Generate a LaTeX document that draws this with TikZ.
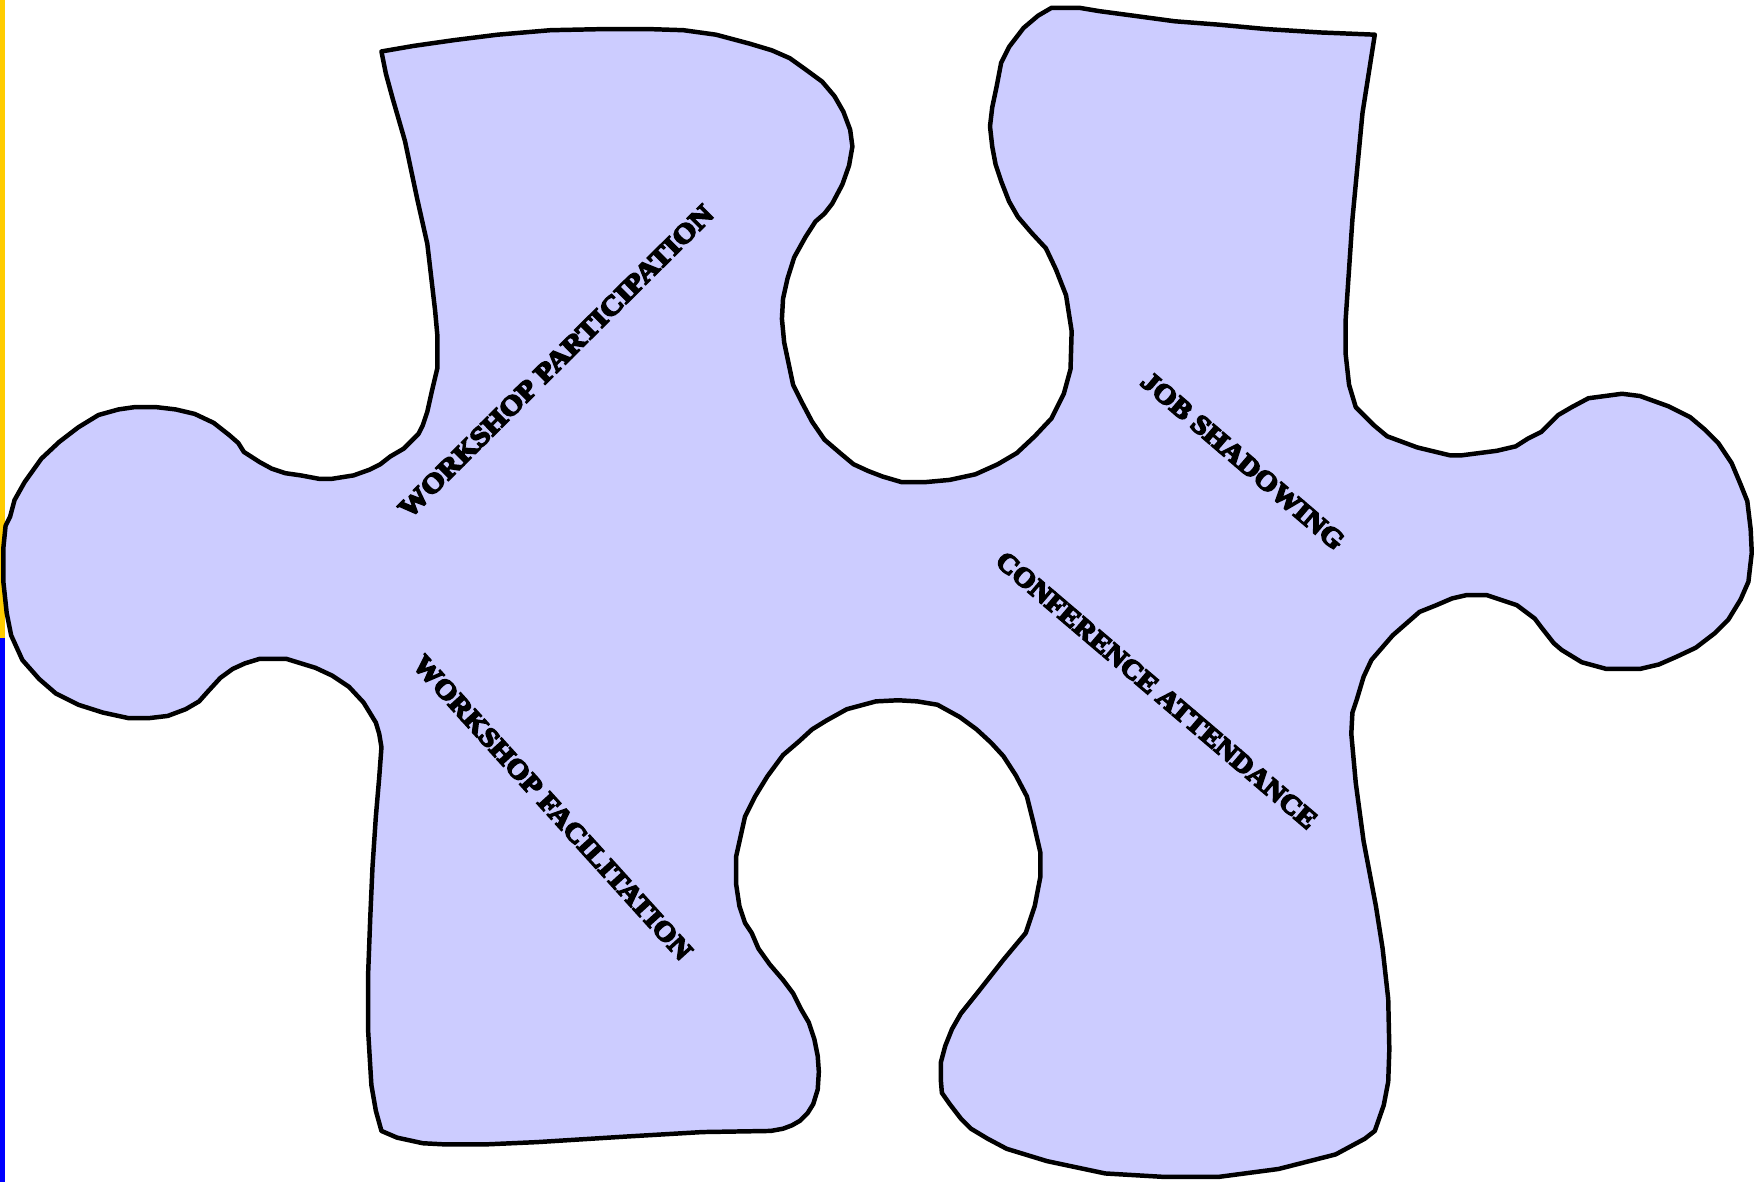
\documentclass[tikz,border=0pt]{standalone}
\usepackage{fontspec}
\setmainfont{Liberation Serif}
\newfontfamily\heavy{Liberation Serif}[BoldFeatures={FakeBold=6}]
\definecolor{piece}{HTML}{CCCCFF}
\definecolor{edgeyellow}{HTML}{FFCC00}
\definecolor{edgeblue}{HTML}{0000FF}
\begin{document}
\begin{tikzpicture}[x=1pt,y=-1pt,
  outline/.style={draw=black,line width=4pt,fill=piece,line join=round},
  lbl/.style={inner sep=0pt,font=\heavy\bfseries}]
\useasboundingbox (0,0) rectangle (1568,1057);
\fill[edgeyellow] (0,0) rectangle (4.5,570);
\fill[edgeblue] (0,570) rectangle (4.5,1057);
\draw[outline] (341,46) -- (370,41) -- (405,36) -- (445,31) -- (492,27) -- (540,26) -- (580,26) -- (611,27) -- (640,31) -- (670,39) -- (690,45) -- (706,52) -- (720,62) -- (735,73) -- (746,86) -- (754,100) -- (760,116) -- (762,131) -- (759,148) -- (753,165) -- (744,182) -- (737,191) -- (729,198) -- (720,212) -- (710,230) -- (704,249) -- (700,267) -- (699,285) -- (701,306) -- (705,325) -- (709,344) -- (717,360) -- (726,377) -- (737,393) -- (751,405) -- (763,415) -- (776,421) -- (789,426) -- (806,431) -- (827,431) -- (849,429) -- (872,424) -- (892,415) -- (909,405) -- (925,390) -- (940,374) -- (951,352) -- (957,330) -- (958,296) -- (953,264) -- (944,241) -- (935,222) -- (922,208) -- (910,194) -- (902,180) -- (895,162) -- (890,147) -- (887,131) -- (885,113) -- (887,96) -- (891,77) -- (895,56) -- (902,42) -- (915,25) -- (928,14) -- (940,7) -- (965,7) -- (983,10) -- (1013,14) -- (1050,19) -- (1089,22) -- (1132,26) -- (1180,29) -- (1229,31) -- (1218,101) -- (1209,196) -- (1203,285) -- (1203,317) -- (1206,344) -- (1212,364) -- (1228,380) -- (1240,390) -- (1267,400) -- (1296,407) -- (1307,407) -- (1338,403) -- (1355,399) -- (1366,392) -- (1378,386) -- (1393,371) -- (1405,364) -- (1420,356) -- (1450,352) -- (1466,354) -- (1491,363) -- (1511,373) -- (1524,384) -- (1536,396) -- (1548,414) -- (1556,433) -- (1562,448) -- (1565,473) -- (1566,494) -- (1563,520) -- (1556,536) -- (1545,554) -- (1533,566) -- (1516,579) -- (1499,587) -- (1483,594) -- (1466,598) -- (1436,598) -- (1414,592) -- (1396,581) -- (1389,575) -- (1378,561) -- (1372,553) -- (1356,541) -- (1329,532) -- (1311,532) -- (1298,535) -- (1284,541) -- (1269,547) -- (1245,568) -- (1226,590) -- (1219,605) -- (1213,625) -- (1209,637) -- (1208,656) -- (1212,700) -- (1219,752) -- (1230,810) -- (1236,848) -- (1241,893) -- (1242,938) -- (1241,967) -- (1237,988) -- (1229,1011) -- (1220,1018) -- (1194,1032) -- (1143,1045) -- (1090,1052) -- (1039,1052) -- (988,1049) -- (936,1038) -- (900,1027) -- (883,1018) -- (868,1009) -- (859,1000) -- (849,987) -- (842,977) -- (841,965) -- (841,950) -- (845,935) -- (851,920) -- (859,906) -- (875,886) -- (897,858) -- (917,834) -- (925,810) -- (930,784) -- (930,762) -- (924,736) -- (918,712) -- (908,693) -- (897,676) -- (886,664) -- (873,652) -- (858,641) -- (838,630) -- (820,627) -- (803,626) -- (783,627) -- (757,634) -- (739,644) -- (726,652) -- (714,663) -- (700,675) -- (686,694) -- (675,712) -- (666,730) -- (658,766) -- (658,790) -- (661,810) -- (666,825) -- (672,834) -- (678,848) -- (688,862) -- (700,876) -- (709,888) -- (716,902) -- (723,914) -- (728,929) -- (731,944) -- (732,958) -- (731,974) -- (727,987) -- (722,995) -- (715,1002) -- (708,1006) -- (700,1009) -- (689,1011) -- (628,1012) -- (560,1016) -- (480,1021) -- (435,1023) -- (397,1023) -- (378,1022) -- (355,1017) -- (341,1011) -- (336,993) -- (332,970) -- (329,920) -- (329,873) -- (331,820) -- (333,775) -- (336,730) -- (339,695) -- (341,668) -- (339,656) -- (336,646) -- (325,628) -- (312,614) -- (297,604) -- (282,597) -- (269,593) -- (256,589) -- (232,589) -- (219,593) -- (208,598) -- (197,606) -- (186,618) -- (178,627) -- (166,634) -- (150,640) -- (133,642) -- (115,642) -- (92,637) -- (70,630) -- (50,620) -- (35,607) -- (20,590) -- (10,568) -- (6,548) -- (3,520) -- (3,490) -- (5,470) -- (9,462) -- (13,447) -- (22,431) -- (37,410) -- (53,395) -- (70,382) -- (88,371) -- (106,366) -- (120,364) -- (140,364) -- (157,366) -- (174,370) -- (191,378) -- (205,389) -- (213,396) -- (218,404) -- (232,413) -- (243,419) -- (255,423) -- (269,425) -- (285,428) -- (297,428) -- (316,425) -- (330,420) -- (340,415) -- (349,408) -- (361,401) -- (374,388) -- (378,380) -- (382,368) -- (386,350) -- (391,329) -- (391,300) -- (389,278) -- (384,235) -- (382,218) -- (373,178) -- (362,126) -- (351,88) -- (345,66) -- cycle;
\node[lbl,rotate=44.8] (wp) at (497,323) {\resizebox{385pt}{16pt}{WORKSHOP PARTICIPATION}};
\node[lbl,rotate=-47.8] (wf) at (494,722) {\resizebox{358pt}{16pt}{WORKSHOP FACILITATION}};
\node[lbl,rotate=-40.4] (ca) at (1034,617) {\resizebox{368pt}{16pt}{CONFERENCE ATTENDANCE}};
\node[lbl,rotate=-40.5] (js) at (1111,412) {\resizebox{230pt}{16pt}{JOB SHADOWING}};
\end{tikzpicture}
\end{document}
